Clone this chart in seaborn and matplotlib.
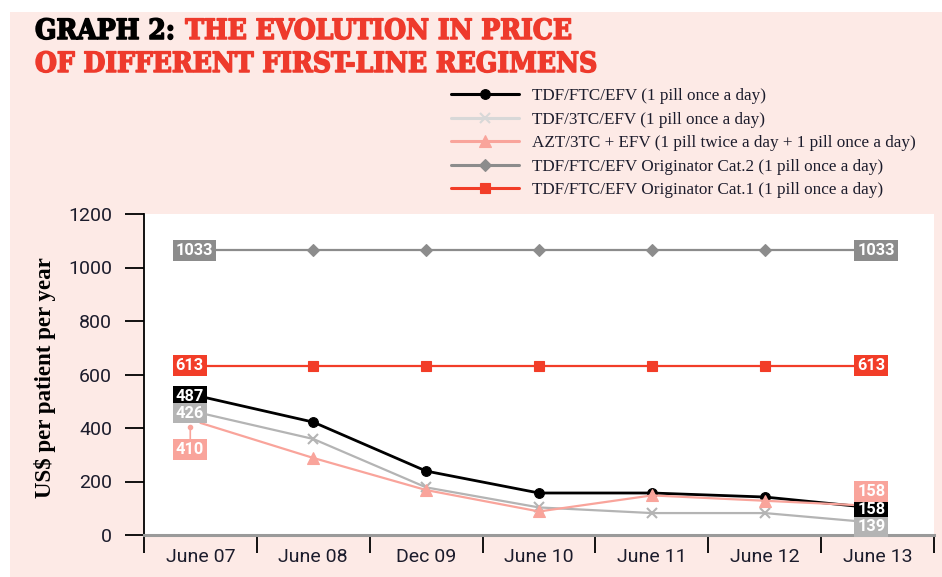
import numpy as np
import pandas as pd
import matplotlib
matplotlib.use("Agg")
import matplotlib.pyplot as plt
import matplotlib.font_manager as fm
import matplotlib.patheffects as pe
from matplotlib.patches import Rectangle
import seaborn as sns

# ---------------- data ----------------
periods = ["June 07", "June 08", "Dec 09", "June 10", "June 11", "June 12", "June 13"]
regimens = [
    "TDF/FTC/EFV (1 pill once a day)",
    "TDF/3TC/EFV (1 pill once a day)",
    "AZT/3TC + EFV (1 pill twice a day + 1 pill once a day)",
    "TDF/FTC/EFV Originator Cat.2 (1 pill once a day)",
    "TDF/FTC/EFV Originator Cat.1 (1 pill once a day)",
]
tdf_ftc_efv = [518, 422, 239, 157, 157, 142, 100]
tdf_3tc_efv = [456, 359, 178, 103, 82, 82, 45]
azt_3tc_efv = [419, 288, 168, 88, 148, 128, 108]
orig_cat2 = [1065, 1065, 1065, 1065, 1065, 1065, 1065]
orig_cat1 = [632, 632, 632, 632, 632, 632, 632]
series_values = [tdf_ftc_efv, tdf_3tc_efv, azt_3tc_efv, orig_cat2, orig_cat1]

start_labels = ["487", "426", "410", "1033", "613"]
end_labels = ["158", "139", "158", "1033", "613"]

y_ticks = [0, 200, 400, 600, 800, 1000, 1200]

# ---------------- style ----------------
colors = ["#000000", "#b4b4b4", "#f9a49b", "#8c8c8c", "#f23d28"]
legend_colors = ["#000000", "#d8d8d8", "#f9a49b", "#8c8c8c", "#f23d28"]
sns_markers = ["o", "X", "^", "D", "s"]
final_markers = ["o", "x", "^", "D", "s"]
msizes = [7, 7, 8, 6.5, 6.5]
lwidths = [2.0, 1.6, 1.6, 1.6, 1.6]
title_red = "#ee3a2c"
ink = "#1c1c2c"
bg_pink = "#fdeae6"

sns.set_style("ticks")
avail = {f.name for f in fm.fontManager.ttflist}
sans = "Roboto" if "Roboto" in avail else "DejaVu Sans"
serif = "Liberation Serif" if "Liberation Serif" in avail else "DejaVu Serif"
plt.rcParams["font.family"] = [sans, "DejaVu Sans"]
has_cond = any(f.name == "DejaVu Serif" and f.stretch == "condensed" for f in fm.fontManager.ttflist)

rows = []
for name, vals in zip(regimens, series_values):
    for i, v in enumerate(vals):
        rows.append({"pos": i, "period": periods[i], "price": v, "regimen": name})
df = pd.DataFrame(rows)

W, H = 942, 577
fig = plt.figure(figsize=(W / 100, H / 100), dpi=100)
fig.patch.set_facecolor("white")
fig.patches.append(Rectangle((10 / W, 0), 1, 1 - 12 / H, transform=fig.transFigure,
                             facecolor=bg_pink, edgecolor="none", zorder=-10))

ax = fig.add_axes([144 / W, 1 - 535 / H, 790 / W, 321 / H])
ax.set_facecolor("white")

sns.lineplot(data=df, x="pos", y="price", hue="regimen", style="regimen",
             hue_order=regimens, style_order=regimens,
             palette=dict(zip(regimens, colors)),
             markers=dict(zip(regimens, sns_markers)), dashes=False,
             sort=False, ax=ax, legend=True)

for ln, c, ms, lw, m in zip(ax.lines[:5], colors, msizes, lwidths, final_markers):
    ln.set_marker(m)
    ln.set_color(c)
    ln.set_markersize(ms)
    ln.set_linewidth(lw)
    ln.set_markeredgecolor(c)
    ln.set_markerfacecolor(c)
    ln.set_markeredgewidth(1.5 if m == "x" else 0.8)
    ln.set_markevery([1, 2, 3, 4, 5])

handles, labels = ax.get_legend_handles_labels()
ax.get_legend().remove()
for h, c, ms, m in zip(handles, legend_colors, msizes, final_markers):
    h.set_marker(m)
    h.set_color(c)
    h.set_markeredgecolor(c)
    h.set_markerfacecolor(c)
    h.set_markersize(ms)
    h.set_markeredgewidth(1.5 if m == "x" else 0.8)
    h.set_linewidth(2.2)
fig.legend(handles, labels, loc="upper left", bbox_to_anchor=(451 / W, 1 - 88 / H),
           frameon=False, borderpad=0, borderaxespad=0, handlelength=4.0,
           handletextpad=0.72, labelspacing=0.44,
           prop={"family": serif, "size": 12.3}, labelcolor=ink)

ax.set_xlim(-0.5, 6.5)
ax.set_ylim(0, 1200)
ax.set_xticks(np.arange(-0.5, 7, 1))
ax.set_xticklabels([])
ax.set_xticks(range(len(periods)), minor=True)
ax.set_xticklabels(periods, minor=True, fontsize=14, color=ink)
ax.tick_params(axis="x", which="major", length=13, width=1.3, color="black", direction="out")
ax.tick_params(axis="x", which="minor", length=0, pad=9)
ax.set_yticks(y_ticks)
ax.set_yticklabels([str(t) for t in y_ticks], fontsize=14, color=ink)
ax.tick_params(axis="y", length=14, width=1.3, color="black", direction="out", pad=9)
ax.set_xlabel("")
ax.set_ylabel("")
for s in ["top", "right"]:
    ax.spines[s].set_visible(False)
ax.spines["left"].set_color("black")
ax.spines["left"].set_linewidth(1.3)
ax.spines["bottom"].set_color("#9a9a9a")
ax.spines["bottom"].set_linewidth(2.2)

# value labels
start_off = [0, 0, -100, 0, 0]
end_off = [-3, -15, 55, 0, 0]
for vals, c, t0, t1, o0, o1 in zip(series_values, colors, start_labels, end_labels, start_off, end_off):
    bb = dict(boxstyle="square,pad=0.18", facecolor=c, edgecolor="none")
    ax.text(-0.22, vals[0] + o0, t0, ha="left", va="center", fontsize=11.8, color="white",
            fontweight="bold", bbox=bb, zorder=10)
    ax.text(6 - 0.18, vals[-1] + o1, t1, ha="left", va="center", fontsize=11.8, color="white",
            fontweight="bold", bbox=bb, zorder=10)
# connector for the lower-left label
ax.annotate("", xy=(-0.09, azt_3tc_efv[0] - 14), xytext=(-0.09, azt_3tc_efv[0] - 75),
            arrowprops=dict(arrowstyle="-", color=colors[2], lw=1.2, shrinkA=0, shrinkB=0), zorder=9)
ax.plot([-0.09], [azt_3tc_efv[0] - 16], marker="o", ms=3, color=colors[2], zorder=9)

# y label
fig.text(45 / W, 1 - 378 / H, "US$ per patient per year", rotation=90, ha="center", va="center",
         fontsize=16.5, fontweight="bold", family=[serif, "DejaVu Serif"], color="black")

# title (font size fitted to reference line width)
tkw = dict(fontweight="bold", family=["DejaVu Serif"])
if has_cond:
    tkw["fontstretch"] = "condensed"
t2 = fig.text(35 / W, 1 - 72 / H, "OF DIFFERENT FIRST-LINE REGIMENS", color=title_red,
              va="baseline", ha="left", fontsize=20, **tkw)
fig.canvas.draw()
r = fig.canvas.get_renderer()
w2 = t2.get_window_extent(renderer=r).width
fs = 20 * 561 / w2
t2.set_fontsize(fs)
t2.set_path_effects([pe.withStroke(linewidth=1.1, foreground=title_red)])
t1 = fig.text(35 / W, 1 - 39 / H, "GRAPH 2: ", color="black", va="baseline", ha="left",
              fontsize=fs, path_effects=[pe.withStroke(linewidth=1.1, foreground="black")], **tkw)
fig.canvas.draw()
bb1 = t1.get_window_extent(renderer=fig.canvas.get_renderer())
fig.text(bb1.x1 / W + 2 / W, 1 - 39 / H, "THE EVOLUTION IN PRICE", color=title_red, va="baseline",
         ha="left", fontsize=fs, path_effects=[pe.withStroke(linewidth=1.1, foreground=title_red)],
         **tkw)

fig.savefig("out.png", dpi=100, facecolor=fig.get_facecolor())
